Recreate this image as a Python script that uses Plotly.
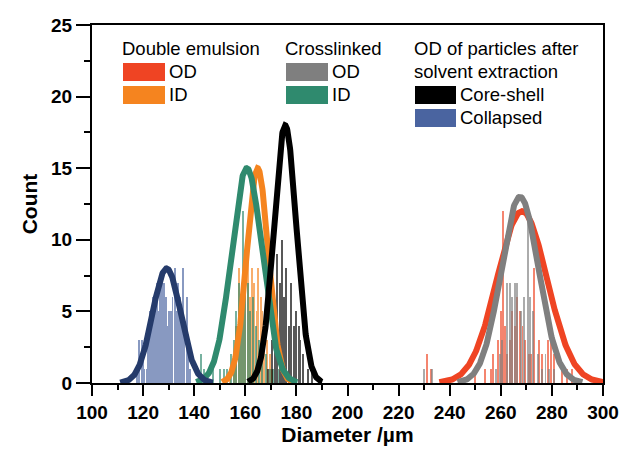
import numpy as np
import plotly.graph_objects as go

# ---------------- data ----------------
# histogram bars: diameter (µm) and count
de_od_x = [231, 232.5, 250, 254, 256, 257, 259, 260, 261, 261.5, 262.5, 263.5, 264.5, 265.5,
           266.5, 267.5, 268.5, 269.5, 271, 272, 273, 275, 276, 278.5, 279.5, 281, 284, 286, 288]
de_od_y = [2, 1, 1, 1, 1, 2, 3, 5, 12, 4, 2, 3, 5, 4,
           6, 5, 4, 3, 2, 2, 8, 3, 2, 3, 4, 2, 1, 1, 1]

de_id_x = [154, 155.5, 156.5, 157.5, 158.5, 159, 160, 161, 162, 162.5, 163.5, 164.5, 165,
           166, 166.5, 167.5, 168.5, 169.5, 170.5]
de_id_y = [1, 2, 4, 8, 5, 6, 7, 10, 6, 8, 7, 5, 8,
           6, 5, 4, 3, 2, 1]

cl_od_x = [230, 233, 258, 259.5, 260.5, 262.5, 263.5, 264.5, 265.5, 266.5, 268, 269,
           270.5, 271.5, 272.5, 274.5, 276, 277.5, 279, 281]
cl_od_y = [1, 1, 1, 2, 3, 7, 7, 6, 7, 7, 5, 6,
           12, 6, 5, 2, 1, 2, 1, 1]

cl_id_x = [142.5, 144, 147.5, 150, 151.5, 153, 154.5, 155.5, 156.5, 157.5, 158.5, 159, 160,
           161, 162, 163, 164, 165.5, 166.5, 168, 169.5, 171, 173]
cl_id_y = [2, 1, 1, 1, 1, 1, 2, 3, 5, 7, 6, 12, 9,
           7, 5, 6, 4, 3, 2, 2, 1, 1, 1]

cs_x = [169, 170.5, 171.5, 172.5, 173.5, 174.5, 175, 176, 177, 178, 179, 180, 181,
        181.5, 182.5, 184.5, 186]
cs_y = [1, 3, 5, 9, 7, 10, 6, 8, 4, 7, 4, 5, 4,
        3, 2, 1, 1]

col_x = [117.5, 118.5, 119.5, 120, 120.5, 121.5, 122, 122.5, 123, 123.5, 124, 124.5, 125,
         125.5, 126, 126.5, 127, 127.5, 128, 128.5, 129, 129.5, 130, 131, 131.5, 132.5,
         133, 133.5, 134, 134.5, 135, 135.5, 136, 137, 137.5, 138.5]
col_y = [1, 3, 3, 2, 1, 1, 3, 5, 4, 5, 6, 5, 6,
         7, 5, 7, 6, 7, 7, 5, 6, 4, 5, 5, 6, 8,
         5, 7, 4, 6, 5, 8, 4, 6, 3, 1]

# Gaussian fit parameters: centre (µm), sigma (µm), peak count
fit_names = ["de_od", "de_id", "cl_od", "cl_id", "cs", "col"]
fit_mean = [268.3, 164.8, 267.5, 160.6, 175.6, 129.2]
fit_sigma = [9.8, 4.2, 7.4, 6.0, 4.4, 5.5]
fit_peak = [12.0, 15.0, 13.0, 15.0, 18.0, 8.0]

# labels
x_title = "Diameter /µm"
y_title = "Count"
legend_headers = ["Double emulsion", "Crosslinked", "OD of particles after", "solvent extraction"]

# ---------------- styling ----------------
C = {
    "de_od": "#EF4423",
    "de_id": "#F5841F",
    "cl_od": "#7F7F7F",
    "cl_id": "#2F8A6E",
    "cs": "#000000",
    "col": "#4A64A0",
}
CURVE = dict(C)
CURVE["col"] = "#253B6B"

fig = go.Figure()

bars = [("de_od", de_od_x, de_od_y), ("cl_od", cl_od_x, cl_od_y),
        ("de_id", de_id_x, de_id_y), ("cl_id", cl_id_x, cl_id_y),
        ("cs", cs_x, cs_y), ("col", col_x, col_y)]
for key, xs, ys in bars:
    fig.add_trace(go.Bar(x=xs, y=ys, width=0.38, opacity=0.65,
                         marker=dict(color=C[key], line_width=0),
                         showlegend=False, hoverinfo="x+y"))

order = ["de_od", "cl_od", "de_id", "cl_id", "col", "cs"]
for key in order:
    i = fit_names.index(key)
    m, s, a = fit_mean[i], fit_sigma[i], fit_peak[i]
    xs = np.linspace(m - 3.3 * s, m + 3.3 * s, 300)
    ys = a * np.exp(-0.5 * ((xs - m) / s) ** 2)
    fig.add_trace(go.Scatter(x=xs, y=ys, mode="lines",
                             line=dict(color=CURVE[key], width=6),
                             showlegend=False, hoverinfo="skip"))

# ---------------- layout ----------------
W, H = 622, 454
L, R, T, B = 92, 19, 25, 71
PW, PH = W - L - R, H - T - B


def px2paper(px, py):
    return (px - L) / PW, (H - B - py) / PH


annotations = []
shapes = []


def text(px, py, s):
    x, y = px2paper(px, py)
    annotations.append(dict(x=x, y=y, xref="paper", yref="paper", text=s, showarrow=False,
                            xanchor="left", yanchor="middle",
                            font=dict(family="Liberation Sans, Arial", size=18.5, color="black")))


def swatch(px0, px1, pcy, color):
    x0, y0 = px2paper(px0, pcy + 9)
    x1, y1 = px2paper(px1, pcy - 9)
    shapes.append(dict(type="rect", xref="paper", yref="paper", x0=x0, x1=x1, y0=y0, y1=y1,
                       fillcolor=color, line=dict(width=0)))


text(120, 48, legend_headers[0])
swatch(123, 165, 72, C["de_od"]); text(167, 72, "OD")
swatch(123, 165, 95, C["de_id"]); text(167, 95, "ID")

text(283, 48, legend_headers[1])
swatch(286, 328, 72, C["cl_od"]); text(330, 72, "OD")
swatch(286, 328, 95, C["cl_id"]); text(330, 95, "ID")

text(412, 48, legend_headers[2])
text(412, 72, legend_headers[3])
swatch(415, 456, 95, C["cs"]); text(458, 95, "Core-shell")
swatch(415, 456, 118, C["col"]); text(458, 118, "Collapsed")

tickfont = dict(family="Liberation Sans, Arial", size=19, color="black", weight="bold")
titlefont = dict(family="Liberation Sans, Arial", size=21, color="black", weight="bold")

fig.update_layout(
    width=W, height=H,
    margin=dict(l=L, r=R, t=T, b=B, pad=0),
    paper_bgcolor="white", plot_bgcolor="white",
    barmode="overlay", bargap=0,
    showlegend=False,
    annotations=annotations, shapes=shapes,
    xaxis=dict(range=[100, 300], tickmode="linear", tick0=100, dtick=20, automargin=False,
               ticks="outside", ticklen=11, tickwidth=2, tickcolor="black",
               minor=dict(dtick=10, ticks="outside", ticklen=5, tickwidth=2, tickcolor="black"),
               showline=True, linecolor="black", linewidth=2, mirror=True,
               showgrid=False, zeroline=False, tickfont=tickfont,
               title=dict(text=x_title, font=titlefont, standoff=4)),
    yaxis=dict(range=[0, 25], tickmode="linear", tick0=0, dtick=5, automargin=False,
               ticks="outside", ticklen=14, tickwidth=2, tickcolor="black",
               minor=dict(dtick=2.5, ticks="outside", ticklen=6, tickwidth=2, tickcolor="black"),
               showline=True, linecolor="black", linewidth=2, mirror=True,
               showgrid=False, zeroline=False, tickfont=tickfont,
               title=dict(text=y_title, font=titlefont, standoff=8)),
)

# remove the default page margin so the 622x454 figure fills the window exactly
fig.write_html("out.html",
               config={"displayModeBar": False},
               post_script="document.body.style.margin='0';document.body.style.overflow='hidden';")
